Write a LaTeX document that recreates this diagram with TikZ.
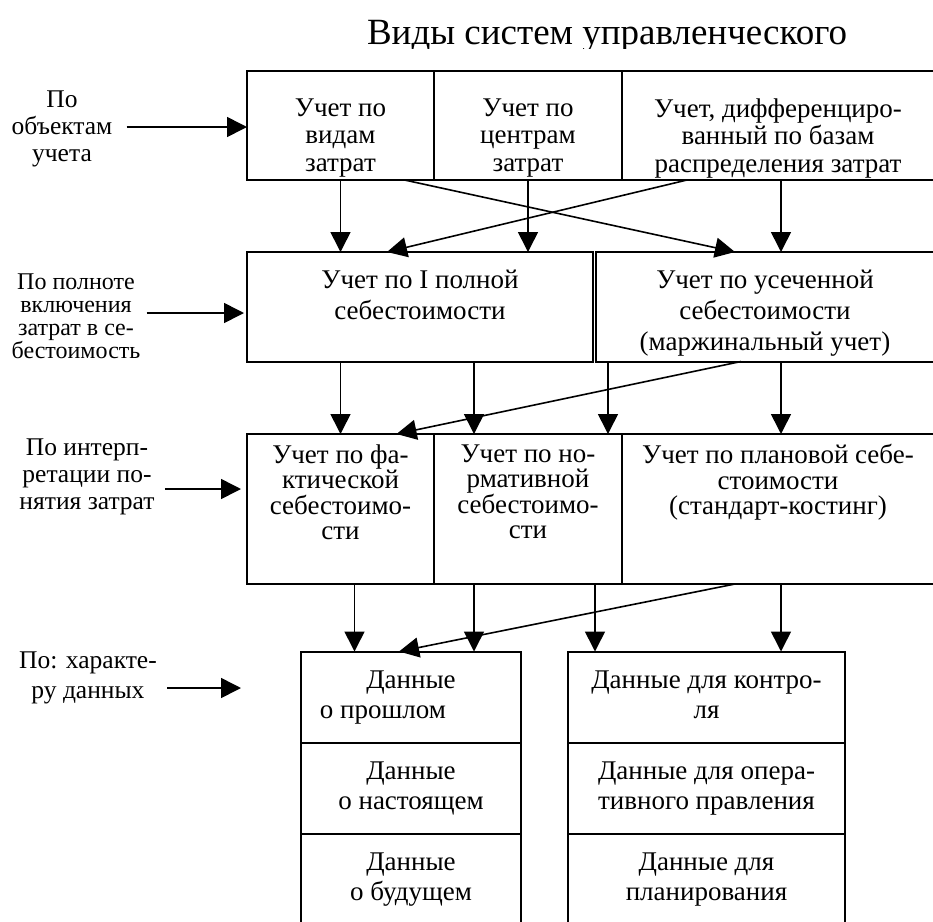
\documentclass[tikz,border=0pt]{standalone}
\usepackage{fontspec}
\setmainfont{Liberation Serif}
\usetikzlibrary{arrows.meta}

\tikzset{
  cell/.style={draw, line width=1pt, inner sep=0pt, outer sep=0pt},
  txt/.style={anchor=north, align=center, inner sep=0pt, font=\fontsize{13.5}{#1}\selectfont},
  txt/.default=13.75pt,
  lbl/.style={align=center, inner sep=0pt, font=\fontsize{12.75}{#1}\selectfont},
  lbl/.default=13.5pt,
  arr/.style={-{Triangle[length=10pt,width=10pt]}, line width=0.8pt}
}

\begin{document}
\begin{tikzpicture}[x=0.5pt, y=-0.5pt]
    \useasboundingbox (0,0) rectangle (933,922);

    % Title (cut at the bottom, as in the scan)
    \begin{scope}
      \clip (0,0) rectangle (933,48);
      \node[anchor=base, inner sep=0pt, font=\fontsize{18.5}{20}\selectfont] (title) at (607,44) {Виды систем управленческого};
    \end{scope}

    % Row 1: objects of accounting
    \node[cell, minimum width=93.5pt, minimum height=54.5pt] (r1a) at (340.5,125.5) {};
    \node[cell, minimum width=94pt, minimum height=54.5pt] (r1b) at (528,125.5) {};
    \node[cell, minimum width=156pt, minimum height=54.5pt] (r1c) at (778,125.5) {};
    \node[txt] (t1a) at ([yshift=-13.5pt]r1a.north) {Учет по\\видам\\затрат};
    \node[txt] (t1b) at ([yshift=-13.5pt]r1b.north) {Учет по\\центрам\\затрат};
    \node[txt] (t1c) at ([yshift=-13.5pt]r1c.north) {Учет, дифференциро-\\ванный по базам\\распределения затрат};

    % Row 2: completeness of costs
    \node[cell, minimum width=173pt, minimum height=54.75pt] (r2a) at (420,306.75) {};
    \node[cell, minimum width=169pt, minimum height=54.75pt] (r2b) at (765,306.75) {};
    \node[txt=15.5pt] (t2a) at ([yshift=-9pt]r2a.north) {Учет по I полной\\себестоимости};
    \node[txt=15.5pt] (t2b) at ([yshift=-9pt]r2b.north) {Учет по усеченной\\себестоимости\\(маржинальный учет)};

    % Row 3: interpretation of costs
    \node[cell, minimum width=93.5pt, minimum height=75pt] (r3a) at (340.5,509) {};
    \node[cell, minimum width=94pt, minimum height=75pt] (r3b) at (528,509) {};
    \node[cell, minimum width=156pt, minimum height=75pt] (r3c) at (778,509) {};
    \node[txt=12.75pt] (t3a) at ([yshift=-5pt]r3a.north) {Учет по фа-\\ктической\\себестоимо-\\сти};
    \node[txt=12.75pt] (t3b) at ([yshift=-5pt]r3b.north) {Учет по но-\\рмативной\\себестоимо-\\сти};
    \node[txt=12.75pt] (t3c) at ([yshift=-5pt]r3c.north) {Учет по плановой себе-\\стоимости\\(стандарт-костинг)};

    % Row 4: character of data
    \foreach \i/\y/\a/\b in {1/697/{Данные\\о прошлом\hspace*{28pt}}/{Данные для контро-\\ля},
                             2/788/{Данные\\о настоящем}/{Данные для опера-\\тивного правления},
                             3/879/{Данные\\о будущем}/{Данные для\\планирования}}
    {
      \node[cell, minimum width=110pt, minimum height=45.5pt] (r4a\i) at (411,\y) {};
      \node[cell, minimum width=138.5pt, minimum height=45.5pt] (r4b\i) at (706.5,\y) {};
      \node[txt=15pt] (t4a\i) at ([yshift=-9.5pt]r4a\i.north) {\a};
      \node[txt=15pt] (t4b\i) at ([yshift=-9.5pt]r4b\i.north) {\b};
    }

    % Left labels
    \node[lbl] (l1) at (62,129) {По\\объектам\\учета};
    \node[lbl=11.5pt, font=\fontsize{12}{11.5}\selectfont] (l2) at (76,316) {По полноте\\включения\\затрат в се-\\бестоимость};
    \node[lbl] (l3) at (87,477) {По интерп-\\ретации по-\\нятия затрат};
    \node[lbl=15pt] (l4) at (88,678) {По: характе-\\ру данных};
    \coordinate (e4) at ([xshift=-3pt, yshift=-5pt]l4.east -| r3a.west);

    \draw[arr] ([xshift=7pt, yshift=1pt]l1.east) -- ([yshift=1pt]l1.east -| r1a.west);
    \draw[arr] ([xshift=3pt, yshift=1.5pt]l2.east) -- ([xshift=-1.5pt, yshift=1.5pt]l2.east -| r2a.west);
    \draw[arr] ([xshift=5pt, yshift=-6pt]l3.east) -- ([xshift=-3pt, yshift=-6pt]l3.east -| r3a.west);
    \draw[arr] ([xshift=5pt, yshift=-5pt]l4.east) -- (e4);

    % Row 1 -> row 2
    \draw[arr] (r1a.south) -- (r1a.south |- r2a.north);
    \draw[arr] (r1b.south) -- (r1b.south |- r2a.north);
    \draw[arr] ([xshift=1.5pt]r1c.south) -- ([xshift=1.5pt]r1c.south |- r2b.north);
    \draw[arr] ([xshift=32pt]r1a.south) -- ([xshift=-15pt]r2b.north);
    \draw[arr] ([xshift=-45.5pt]r1c.south) -- ([xshift=-16.5pt]r2a.north);

    % Row 2 -> row 3
    \draw[arr] (r2a.south -| r3a.north) -- (r3a.north);
    \draw[arr] ([xshift=27pt]r2a.south) -- ([xshift=27pt]r2a.south |- r3b.north);
    \draw[arr] ([xshift=-78.5pt]r2b.south) -- ([xshift=-78.5pt]r2b.south |- r3b.north);
    \draw[arr] ([xshift=1.5pt]r2b.south -| r3c.north) -- ([xshift=1.5pt]r3c.north);
    \draw[arr] ([xshift=-12pt]r2b.south) -- ([xshift=28pt]r3a.north);

    % Row 3 -> row 4
    \draw[arr] ([xshift=7pt]r3a.south) -- ([xshift=7pt]r3a.south |- r4a1.north);
    \draw[arr] ([xshift=-27pt]r3b.south) -- ([xshift=-27pt]r3b.south |- r4a1.north);
    \draw[arr] ([xshift=33.5pt]r3b.south) -- ([xshift=33.5pt]r3b.south |- r4b1.north);
    \draw[arr] ([xshift=1.5pt]r3c.south) -- ([xshift=1.5pt]r3c.south |- r4b1.north);
    \draw[arr] ([xshift=-21.5pt]r3c.south) -- ([xshift=-6pt]r4a1.north);
\end{tikzpicture}
\end{document}
